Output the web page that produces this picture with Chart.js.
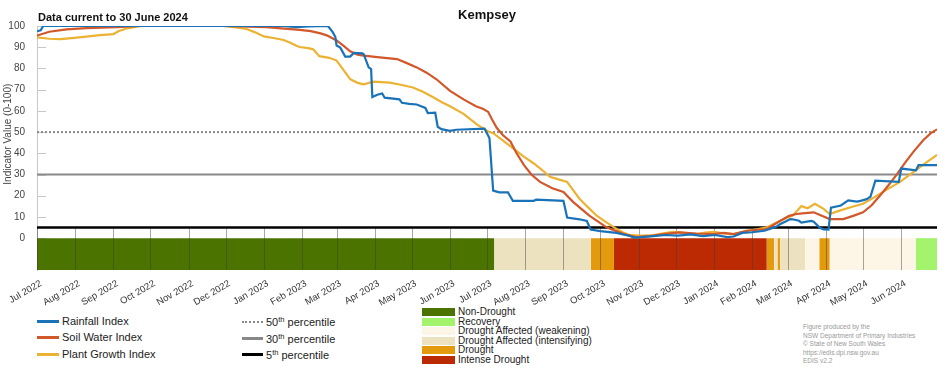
<!DOCTYPE html>
<html>
<head>
<meta charset="utf-8">
<script src="https://cdn.jsdelivr.net/npm/chart.js@4.4.1/dist/chart.umd.min.js"></script>
<style>
  body { margin: 0; background: #fff; font-family: "Liberation Sans", Arial, sans-serif; }
  #wrap { position: relative; width: 952px; height: 370px; overflow: hidden; }
  #edisChart { position: absolute; left: 0; top: 0; }
  .lg { position: absolute; font-size: 11px; line-height: 12px; color: #222; white-space: nowrap; }
  .lg sup { font-size: 7.5px; line-height: 0; vertical-align: 4px; }
  .sw { position: absolute; }
  .cat { position: absolute; font-size: 10px; line-height: 10px; color: #222; white-space: nowrap; }
  .credit { position: absolute; left: 803px; font-size: 6.5px; line-height: 8.5px; color: #999; top: 323px; }
</style>
</head>
<body>
<div id="wrap">
  <canvas id="edisChart" width="952" height="306"></canvas>

  <div class="sw" style="left:37px;top:320px;width:22px;height:3px;background:#1a73b8"></div>
  <div class="lg" style="left:62px;top:315px">Rainfall Index</div>
  <div class="sw" style="left:37px;top:336px;width:22px;height:3px;background:#d2572b"></div>
  <div class="lg" style="left:62px;top:331px">Soil Water Index</div>
  <div class="sw" style="left:37px;top:353px;width:22px;height:3px;background:#ecb232"></div>
  <div class="lg" style="left:62px;top:348px">Plant Growth Index</div>

  <div class="sw" style="left:242px;top:321px;width:21px;height:0;border-top:2px dotted #888"></div>
  <div class="lg" style="left:266px;top:316px">50<sup>th</sup> percentile</div>
  <div class="sw" style="left:242px;top:337px;width:21px;height:3px;background:#888"></div>
  <div class="lg" style="left:266px;top:333px">30<sup>th</sup> percentile</div>
  <div class="sw" style="left:242px;top:353px;width:21px;height:3px;background:#000"></div>
  <div class="lg" style="left:266px;top:349px">5<sup>th</sup> percentile</div>

  <div id="catLegend"></div>

  <div class="credit">Figure produced by the<br>NSW Department of Primary Industries<br>© State of New South Wales<br>https://edis.dpi.nsw.gov.au<br>EDIS v2.2</div>
</div>
<script>
// days since 1 Jul 2022
const monthDays = [0, 31, 62, 92, 123, 153, 184, 215, 243, 274, 304, 335, 365, 396, 427, 457, 488, 518, 549, 580, 609, 640, 670, 701];
const monthLabels = ['Jul 2022', 'Aug 2022', 'Sep 2022', 'Oct 2022', 'Nov 2022', 'Dec 2022', 'Jan 2023', 'Feb 2023', 'Mar 2023', 'Apr 2023', 'May 2023', 'Jun 2023',
    'Jul 2023', 'Aug 2023', 'Sep 2023', 'Oct 2023', 'Nov 2023', 'Dec 2023', 'Jan 2024', 'Feb 2024', 'Mar 2024', 'Apr 2024', 'May 2024', 'Jun 2024'];
const yTickValues = [0, 10, 20, 30, 40, 50, 60, 70, 80, 90, 100];
const lastDay = 730;

const rainfallX = [0, 3, 5, 200, 210, 220, 236, 240, 242, 243, 246, 250, 254, 257, 264, 265, 269, 271, 272, 276, 280, 282, 294, 296, 302, 308, 315, 317, 323, 325, 328, 335, 340, 363, 365, 367,
    370, 375, 382, 383, 386, 403, 405, 427, 430, 440, 446, 449, 457, 470, 481, 484, 490, 500, 510, 520, 530, 540, 550, 560, 565, 572, 580, 590, 595, 600, 603, 608, 611, 613, 618, 620, 628, 630, 635, 638, 642,
    644, 652, 658, 665, 668, 673, 676, 680, 699, 701, 713, 715, 730];
const rainfallY = [97.5, 98, 100, 100, 99.5, 99.8, 100, 97, 94.8, 90.8, 89.8, 85.6, 85.6, 87.3, 87.1, 86.7, 80.5, 79.7, 66.5, 67.6, 68.2, 66.2, 65.4, 63.8, 63.3, 63, 61.4, 59, 59.2, 52.5, 51.4, 50.6, 51.1, 51.6, 49.5, 47.1,
    22.4, 21.6, 21.6, 20.6, 17.6, 17.6, 18.2, 17.6, 9.7, 8.9, 8.1, 4.1, 3.3, 2.5, 1.0, 0.3, 0.5, 1.0, 1.5, 1.2, 1.8, 1.0, 1.5, 0.5, 0.8, 2.5, 2.8, 3.5, 4.5, 5.5, 6.7, 8.1, 9, 8.9, 8.2, 7.3, 8.1, 7.8, 4.9, 4.1, 4.0,
    14.4, 15.4, 17.8, 17.2, 17.6, 18.4, 19.5, 27.1, 26.5, 32.8, 32.0, 34.4, 34.4];

const soilX = [0, 10, 24, 40, 65, 83, 150, 186, 213, 222, 230, 235, 243, 249, 254, 260, 265, 278, 292, 300, 308, 316, 324, 335, 346, 356, 362, 366, 369, 373, 378, 384, 389, 395, 401, 408, 418, 427, 435, 448,
    462, 476, 486, 497, 508, 521, 535, 549, 557, 565, 576, 592, 603, 610, 616, 623, 630, 637, 643, 654, 662, 670, 677, 684, 690, 697, 704, 711, 719, 725, 730];
const soilY = [95.5, 97.3, 98.4, 99, 99.5, 100, 100, 99.5, 98.2, 97.6, 96.5, 95.6, 93.2, 90.5, 88.1, 86.5, 86, 85.2, 84.4, 82.5, 80.5, 78, 74.9, 69.4, 65.4, 62.2, 60.9, 59.5, 56, 51.9, 48.5, 45.6, 40, 34.4, 30, 26.5, 23.5, 21.8, 17, 10.6,
    5.1, 1.9, 0.5, 1.0, 1.9, 2.7, 2.2, 1.9, 2.5, 1.9, 3.5, 4.3, 8.2, 10.5, 11.4, 11.8, 12.2, 10.5, 9.0, 9.0, 10.5, 12.2, 15.5, 20.2, 24.5, 29.7, 35.5, 40.8, 46.3, 49.5, 51.3];

const plantX = [0, 10, 19, 30, 38, 51, 62, 66, 73, 83, 89, 151, 160, 170, 177, 184, 194, 200, 205, 210, 213, 220, 224, 229, 237, 243, 249, 254, 260, 265, 273, 286, 295, 305, 313, 321, 328, 335, 346, 357, 366, 370,
    378, 386, 394, 403, 410, 416, 423, 430, 435, 440, 447, 454, 461, 468, 475, 481, 490, 500, 508, 516, 525, 535, 542, 549, 557, 565, 576, 584, 592, 603, 608, 613, 620, 625, 631, 638, 643, 651, 660, 670,
    677, 684, 692, 700, 711, 722, 730];
const plantY = [94.6, 94, 93.8, 94.4, 94.9, 95.7, 96.2, 97.5, 98.9, 99.9, 100, 100, 99.4, 98.6, 97, 95.1, 94.1, 93.4, 92.2, 90.8, 90.1, 89.6, 89, 85.8, 85, 83.7, 79, 74.9, 73.2, 72.5, 73.8, 73.3, 72.3, 71, 69, 66.5, 64.2, 62.2, 58.6, 53.5, 50.3, 49.5,
    46, 42.4, 38.8, 35.2, 32, 28.9, 27.7, 26.5, 22.5, 18.6, 14.5, 10.6, 7.8, 5.1, 2.8, 1.4, 1.2, 1.4, 2.3, 3.0, 2.5, 1.9, 2.6, 3.0, 2.3, 1.9, 3.5, 4.2, 5.1, 8.2, 9.5, 10.6, 15.1, 14.1, 16.2, 13.8, 11.4, 13, 14.6, 16.2,
    18.5, 21, 23.8, 26.5, 31.3, 36, 39.2];

const percentileValues = [50, 30, 5];

const categoryNames = ['Non-Drought', 'Recovery', 'Drought Affected (weakening)', 'Drought Affected (intensifying)', 'Drought', 'Intense Drought'];
const categoryColors = ['#4a7300', '#a3f36c', '#fdf5e6', '#ede2bf', '#e39a0c', '#bc2a04'];
const bandStart = [0, 371, 449, 468, 592, 598, 600.5, 603, 623, 634.5, 643, 713];
const bandEnd = [371, 449, 468, 592, 598, 600.5, 603, 623, 634.5, 643, 713, 730];
const bandCategory = ['Non-Drought', 'Drought Affected (intensifying)', 'Drought', 'Intense Drought', 'Drought', 'Drought Affected (intensifying)', 'Drought',
    'Drought Affected (intensifying)', 'Drought Affected (weakening)', 'Drought', 'Drought Affected (weakening)', 'Recovery'];
const bandBottom = -15;

function pairs(xs, ys) {
    return xs.map((x, i) => ({ x: x, y: ys[i] }));
}

function seriesDataset(label, xs, ys, color) {
    return {
        label: label,
        data: pairs(xs, ys),
        borderColor: color,
        borderWidth: 2.2,
        pointRadius: 0,
        tension: 0,
        fill: false
    };
}

let datasets = [
    seriesDataset('Rainfall Index', rainfallX, rainfallY, '#1a73b8'),
    seriesDataset('Soil Water Index', soilX, soilY, '#d2572b'),
    seriesDataset('Plant Growth Index', plantX, plantY, '#ecb232')
];

const pctStyles = [
    { color: '#8a8a8a', width: 2, dash: [2, 2] },
    { color: '#8a8a8a', width: 2, dash: [] },
    { color: '#000000', width: 2.5, dash: [] }
];
percentileValues.forEach((v, i) => {
    datasets.push({
        label: v + 'th percentile',
        data: [{ x: 0, y: v }, { x: lastDay, y: v }],
        borderColor: pctStyles[i].color,
        borderWidth: pctStyles[i].width,
        borderDash: pctStyles[i].dash,
        pointRadius: 0,
        fill: false
    });
});

const firstBandIndex = datasets.length;
bandStart.forEach((s, i) => {
    let c = categoryColors[categoryNames.indexOf(bandCategory[i])];
    datasets.push({
        label: bandCategory[i],
        data: [{ x: s, y: 0 }, { x: bandEnd[i], y: 0 }],
        borderWidth: 0,
        borderColor: c,
        backgroundColor: c,
        pointRadius: 0,
        fill: { value: bandBottom }
    });
});

// category legend (html)
let catHtml = '';
categoryNames.forEach((name, i) => {
    let cy = 312 + i * 9.5;
    catHtml += `<div class="sw" style="left:422px;top:${cy - 4}px;width:33px;height:8px;background:${categoryColors[i]}"></div>`;
    catHtml += `<div class="cat" style="left:458px;top:${cy - 5}px">${name}</div>`;
});
document.getElementById('catLegend').innerHTML = catHtml;

const decorPlugin = {
    id: 'decor',
    beforeDatasetsDraw(chart) {
        const ctx = chart.ctx;
        const x = chart.scales.x;
        const y = chart.scales.y;
        ctx.save();
        ctx.strokeStyle = '#c8c8c8';
        ctx.lineWidth = 1;
        yTickValues.forEach(v => {
            let py = Math.round(y.getPixelForValue(v)) + 0.5;
            ctx.beginPath();
            ctx.moveTo(x.left, py);
            ctx.lineTo(x.left + 9, py);
            ctx.stroke();
        });
        ctx.restore();
    },
    afterDatasetDraw(chart, args) {
        if (args.index !== firstBandIndex) return;
        const ctx = chart.ctx;
        const x = chart.scales.x;
        const y = chart.scales.y;
        ctx.save();
        ctx.strokeStyle = 'rgba(60,60,60,0.45)';
        ctx.lineWidth = 1;
        monthDays.forEach(d => {
            let px = Math.round(x.getPixelForValue(d)) + 0.5;
            ctx.beginPath();
            ctx.moveTo(px, y.getPixelForValue(5));
            ctx.lineTo(px, y.getPixelForValue(bandBottom));
            ctx.stroke();
        });
        ctx.restore();
    },
    afterDraw(chart) {
        const ctx = chart.ctx;
        const area = chart.chartArea;
        const y = chart.scales.y;
        ctx.save();
        ctx.fillStyle = '#111';
        ctx.textBaseline = 'middle';
        ctx.font = 'bold 13px "Liberation Sans", Arial, sans-serif';
        ctx.textAlign = 'center';
        ctx.fillText('Kempsey', (area.left + area.right) / 2, 15);
        ctx.font = 'bold 11px "Liberation Sans", Arial, sans-serif';
        ctx.textAlign = 'left';
        ctx.fillText('Data current to 30 June 2024', area.left + 1, 18);
        ctx.translate(8, y.getPixelForValue(49));
        ctx.rotate(-Math.PI / 2);
        ctx.textAlign = 'center';
        ctx.fillStyle = '#444';
        ctx.font = '10px "Liberation Sans", Arial, sans-serif';
        ctx.fillText('Indicator Value (0-100)', 0, 0);
        ctx.restore();
    }
};

let edisChart = new Chart(document.getElementById('edisChart').getContext('2d'), {
    type: 'line',
    data: { datasets: datasets },
    options: {
        responsive: false,
        animation: false,
        events: [],
        layout: { padding: { top: 26, right: 15, left: 0, bottom: 0 } },
        plugins: {
            legend: { display: false },
            tooltip: { enabled: false },
            title: { display: false }
        },
        scales: {
            x: {
                type: 'linear',
                min: 0,
                max: lastDay,
                afterBuildTicks: (scale) => { scale.ticks = monthDays.map(v => ({ value: v })); },
                afterFit: (scale) => { scale.height = 36; },
                grid: { display: false },
                border: { display: false },
                ticks: {
                    autoSkip: false,
                    minRotation: 30,
                    maxRotation: 30,
                    padding: 0,
                    labelOffset: 4,
                    color: '#333',
                    font: { family: '"Liberation Sans", Arial, sans-serif', size: 9.5 },
                    callback: (value, index) => monthLabels[index]
                }
            },
            y: {
                type: 'linear',
                min: bandBottom,
                max: 100,
                afterBuildTicks: (scale) => { scale.ticks = yTickValues.map(v => ({ value: v })); },
                afterFit: (scale) => { scale.width = 37; },
                grid: { display: false },
                border: { display: true, color: '#c8c8c8', width: 1 },
                ticks: {
                    padding: 4,
                    color: '#444',
                    font: { family: '"Liberation Sans", Arial, sans-serif', size: 10 }
                }
            }
        }
    },
    plugins: [decorPlugin]
});
</script>
</body>
</html>
